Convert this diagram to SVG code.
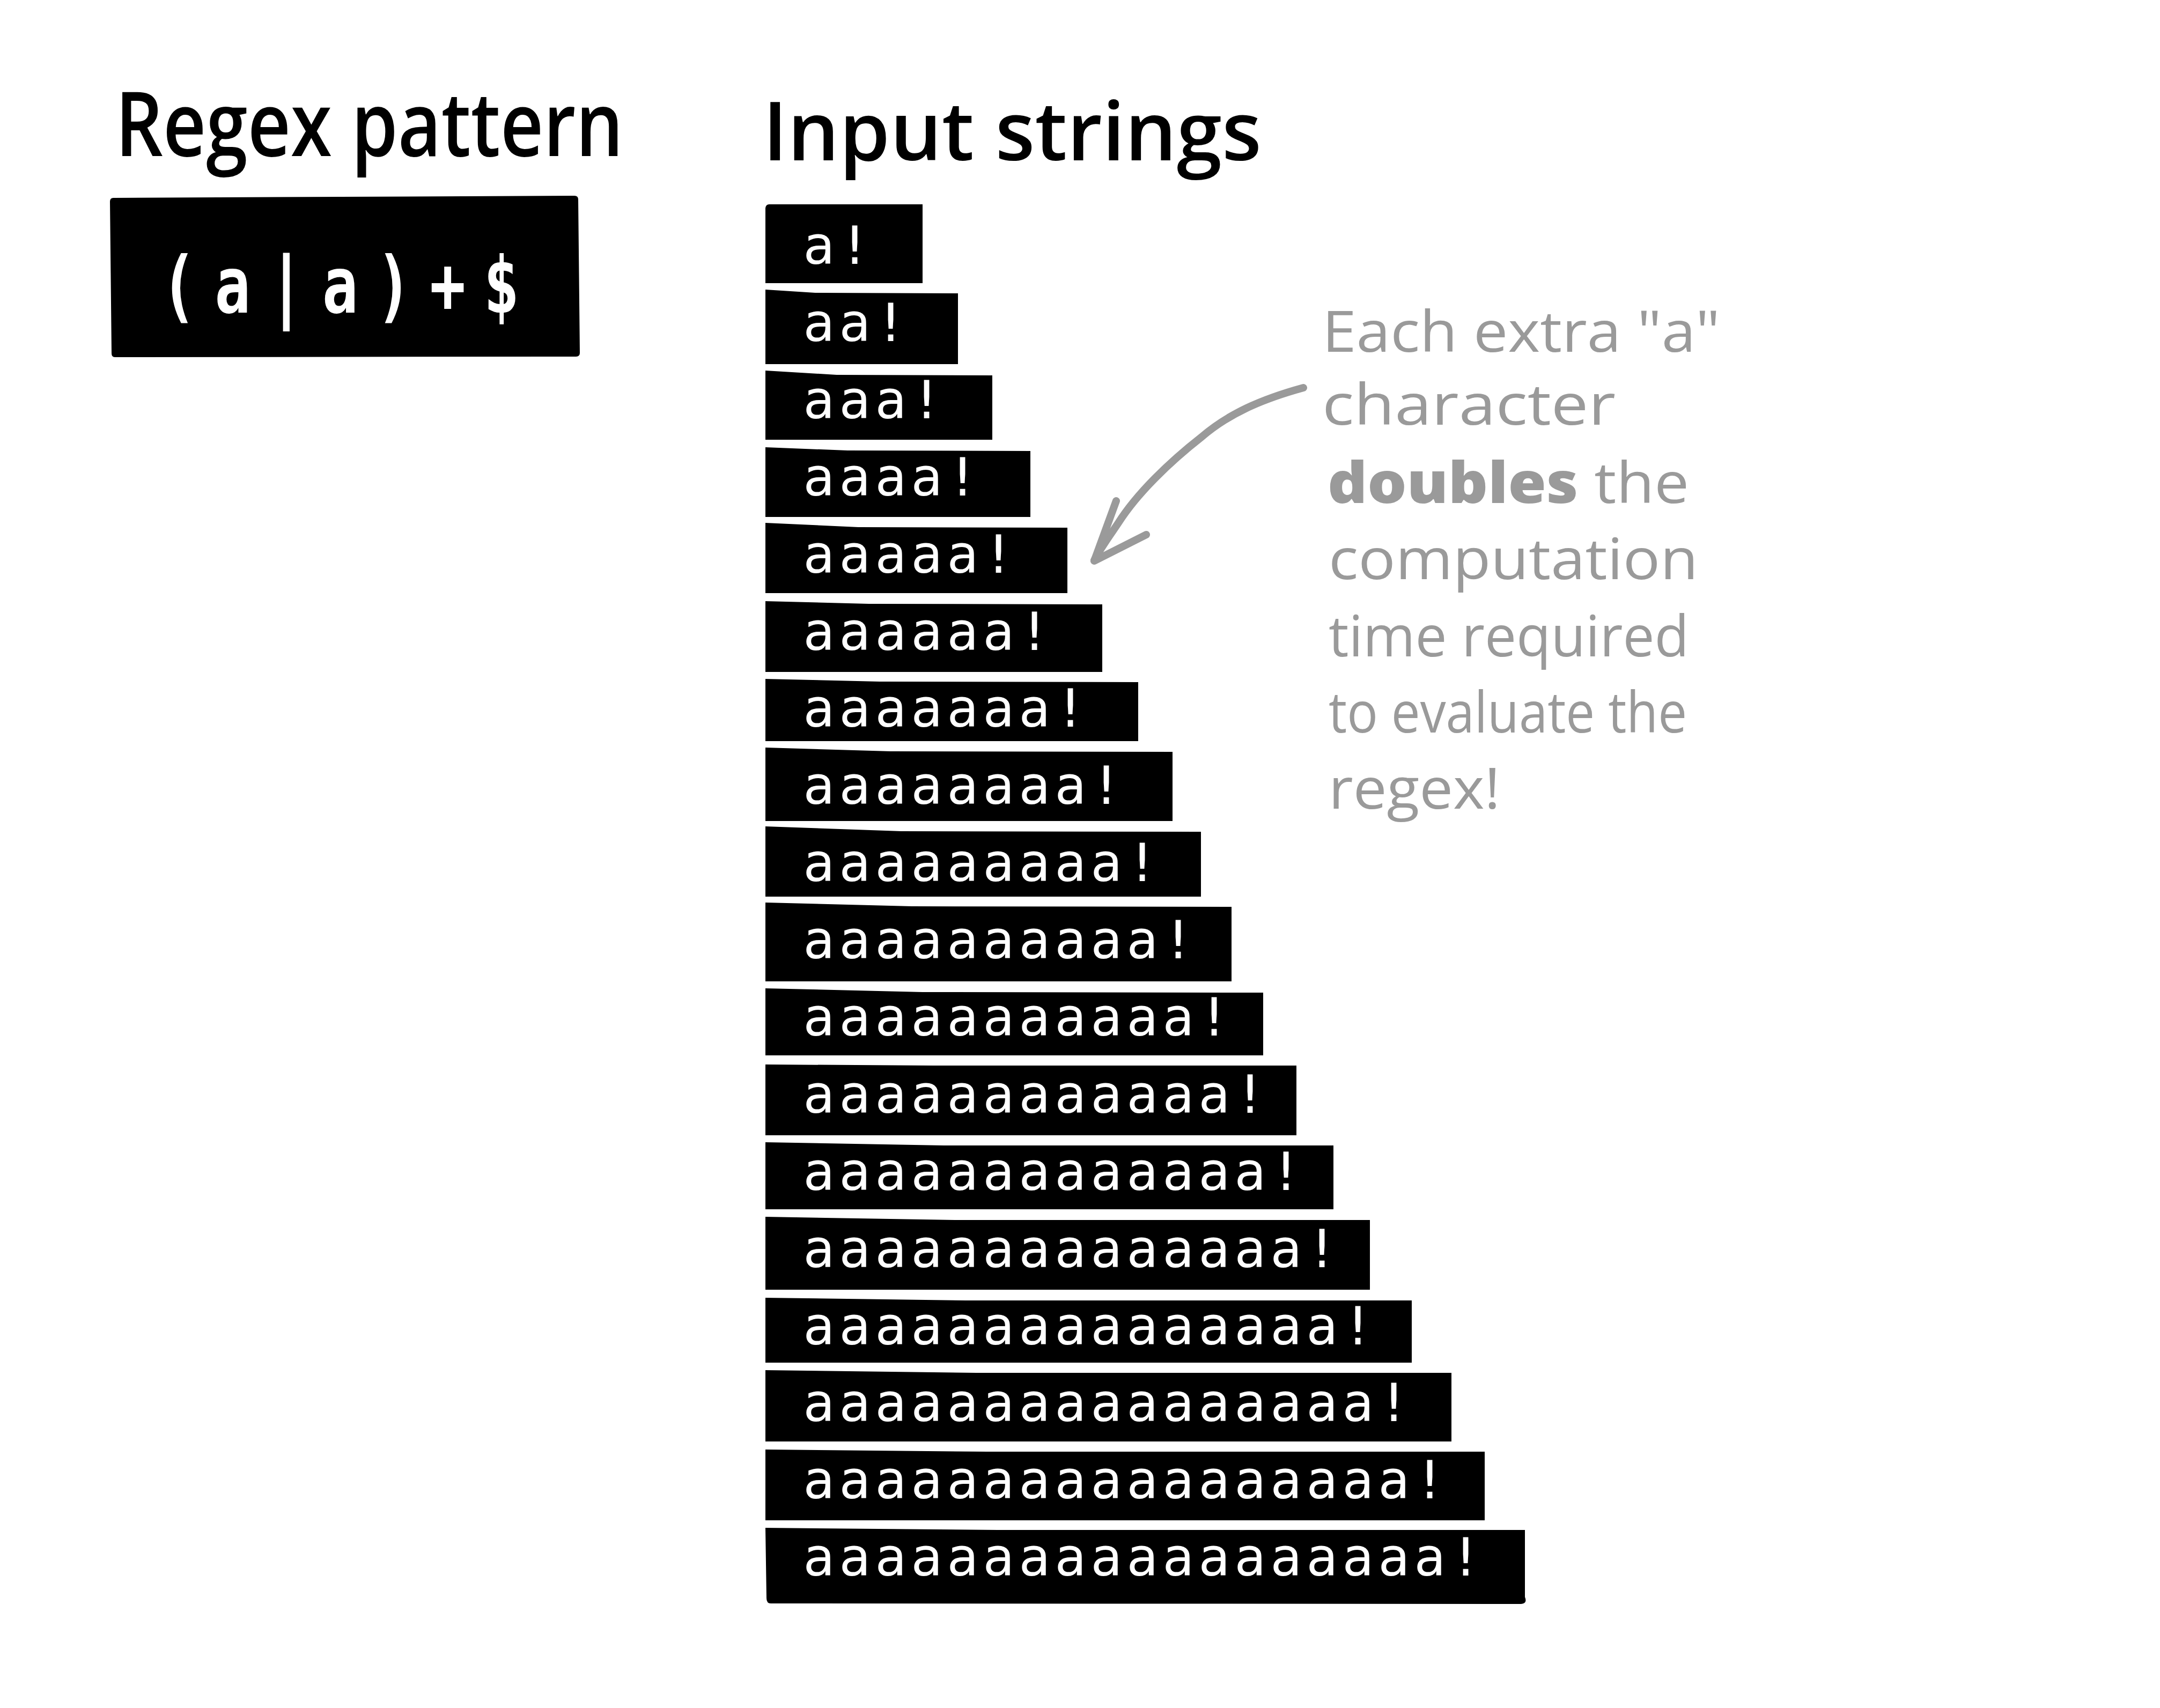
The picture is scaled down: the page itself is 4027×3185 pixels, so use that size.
<svg xmlns="http://www.w3.org/2000/svg" width="4027" height="3185" viewBox="0 0 4027 3185">
<style>
.title{font-family:"Open Sans","Noto Sans",sans-serif;font-weight:600;fill:#000}
.box{fill:#000}
.mono{font-family:"DejaVu Sans Mono","Liberation Mono",monospace;font-size:98px;letter-spacing:8px;fill:#fff}
.note{font-family:"Open Sans","Noto Sans",sans-serif;font-size:106px;fill:#9a9a9a}
.arrow{fill:none;stroke:#9a9a9a;stroke-width:14;stroke-linecap:round;stroke-linejoin:round}
</style>
<rect width="4027" height="3185" fill="#fff"/>

<g id="title-regex">
<text class="title" x="215" y="291" font-size="166" textLength="947" lengthAdjust="spacingAndGlyphs">Regex pattern</text>
</g>
<g id="title-input">
<text class="title" x="1422" y="299" font-size="152" textLength="930" lengthAdjust="spacingAndGlyphs">Input strings</text>
</g>

<g id="regex-box">
<path class="box" d="M205,376 Q205,368 213,369 L1071,365 Q1078,365 1078,372 L1081,658 Q1081,665 1074,665 L214,666 Q208,666 208,659 Z"/>
<text transform="translate(300,583) scale(0.76,1)" font-family="DejaVu Sans Mono, monospace" font-weight="bold" font-size="146" letter-spacing="44" fill="#fff">(a|a)+$</text>
</g>

<g id="row1"><path class="box" d="M1427,388 Q1428,381 1434,381 L1720,381 L1720,528 L1427,528 Z"/><text class="mono" x="1497" y="492">a!</text></g>
<g id="row2"><path class="box" d="M1427,540 L1520,546 L1786,547 L1786,679 L1427,679 Z"/><text class="mono" x="1497" y="636">aa!</text></g>
<g id="row3"><path class="box" d="M1427,691 L1560,699 L1850,700 L1850,820 L1427,820 Z"/><text class="mono" x="1497" y="780">aaa!</text></g>
<g id="row4"><path class="box" d="M1427,834 L1580,840 L1921,841 L1921,964 L1427,964 Z"/><text class="mono" x="1497" y="924">aaaa!</text></g>
<g id="row5"><path class="box" d="M1427,975 L1600,983 L1990,984 L1990,1106 L1427,1106 Z"/><text class="mono" x="1497" y="1068">aaaaa!</text></g>
<g id="row6"><path class="box" d="M1427,1121 L1620,1126 L2055,1127 L2055,1253 L1427,1253 Z"/><text class="mono" x="1497" y="1212">aaaaaa!</text></g>
<g id="row7"><path class="box" d="M1427,1266 L1640,1271 L2122,1272 L2122,1382 L1427,1382 Z"/><text class="mono" x="1497" y="1355">aaaaaaa!</text></g>
<g id="row8"><path class="box" d="M1427,1394 L1660,1401 L2186,1402 L2186,1531 L1427,1531 Z"/><text class="mono" x="1497" y="1499">aaaaaaaa!</text></g>
<g id="row9"><path class="box" d="M1427,1541 L1680,1550 L2239,1551 L2239,1672 L1427,1672 Z"/><text class="mono" x="1497" y="1643">aaaaaaaaa!</text></g>
<g id="row10"><path class="box" d="M1427,1683 L1700,1690 L2296,1691 L2296,1830 L1427,1830 Z"/><text class="mono" x="1497" y="1787">aaaaaaaaaa!</text></g>
<g id="row11"><path class="box" d="M1427,1843 L1720,1850 L2355,1851 L2355,1968 L1427,1968 Z"/><text class="mono" x="1497" y="1931">aaaaaaaaaaa!</text></g>
<g id="row12"><path class="box" d="M1427,1985 L1740,1987 L2417,1987 L2417,2117 L1427,2117 Z"/><text class="mono" x="1497" y="2075">aaaaaaaaaaaa!</text></g>
<g id="row13"><path class="box" d="M1427,2130 L1760,2136 L2486,2136 L2486,2255 L1427,2255 Z"/><text class="mono" x="1497" y="2219">aaaaaaaaaaaaa!</text></g>
<g id="row14"><path class="box" d="M1427,2269 L1780,2275 L2554,2275 L2554,2405 L1427,2405 Z"/><text class="mono" x="1497" y="2363">aaaaaaaaaaaaaa!</text></g>
<g id="row15"><path class="box" d="M1427,2420 L1800,2425 L2632,2425 L2632,2541 L1427,2541 Z"/><text class="mono" x="1497" y="2507">aaaaaaaaaaaaaaa!</text></g>
<g id="row16"><path class="box" d="M1427,2555 L1820,2560 L2706,2560 L2706,2688 L1427,2688 Z"/><text class="mono" x="1497" y="2650">aaaaaaaaaaaaaaaa!</text></g>
<g id="row17"><path class="box" d="M1427,2703 L1840,2707 L2768,2707 L2768,2835 L1427,2835 Z"/><text class="mono" x="1497" y="2794">aaaaaaaaaaaaaaaaa!</text></g>
<g id="row18"><path class="box" d="M1427,2849 L1860,2853 L2843,2853 L2843,2978 Q2848,2990 2836,2991 L1437,2990 Q1429,2990 1429,2980 Z"/><text class="mono" x="1497" y="2938">aaaaaaaaaaaaaaaaaa!</text></g>

<g id="annotation">
<text class="note" x="2465" y="656" textLength="742" lengthAdjust="spacingAndGlyphs">Each extra "a"</text>
<text class="note" x="2465" y="792" textLength="547" lengthAdjust="spacingAndGlyphs">character</text>
<text class="note" x="2475" y="938" textLength="674" lengthAdjust="spacingAndGlyphs"><tspan font-weight="800">doubles</tspan> the</text>
<text class="note" x="2477" y="1080" textLength="689" lengthAdjust="spacingAndGlyphs">computation</text>
<text class="note" x="2477" y="1224" textLength="672" lengthAdjust="spacingAndGlyphs">time required</text>
<text class="note" x="2477" y="1366" textLength="668" lengthAdjust="spacingAndGlyphs">to evaluate the</text>
<text class="note" x="2477" y="1508" textLength="320" lengthAdjust="spacingAndGlyphs">regex!</text>
</g>

<g id="connectors">
<path class="arrow" d="M2430,723 C2350,745 2290,772 2240,815 C2180,862 2120,920 2085,975 C2065,1005 2050,1025 2040,1045"/>
<path class="arrow" d="M2081,934 L2040,1046 L2137,997"/>
</g>
</svg>
